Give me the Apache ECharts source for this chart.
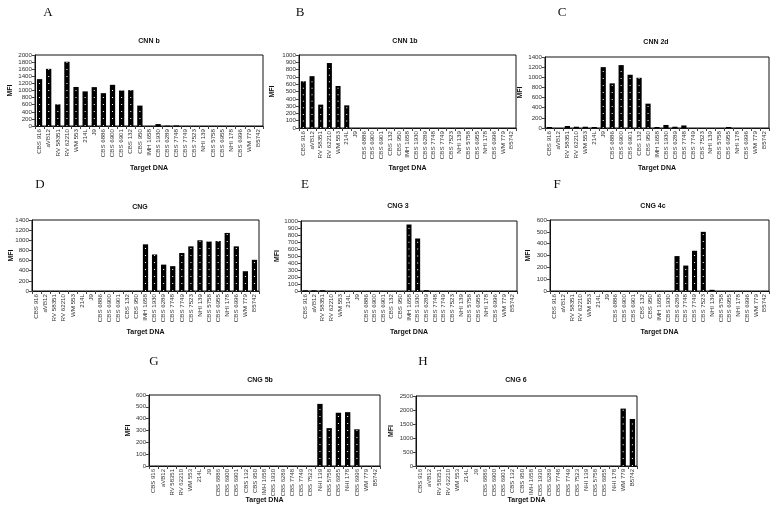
<!DOCTYPE html>
<html><head><meta charset="utf-8">
<script src="https://cdn.jsdelivr.net/npm/echarts@6/dist/echarts.min.js"></script>
<style>html,body{margin:0;padding:0;background:#fff}#c{width:778px;height:509px}</style>
</head><body><div id="c"></div>
<script>
const categories = ['CBS 916','aVB12','RV 58351','RV 62210','WM 553','214L','J9','CBS 6886','CBS 6900','CBS 6901','CBS 132','CBS 950','IMH 1658','CBS 1930','CBS 6289','CBS 7748','CBS 7749','CBS 7523','NHI 139','CBS 5758','CBS 6955','NHI 178','CBS 6996','WM 779','B5742'];
const categoriesH = ['CBS 916','aVB12','RV 58351','RV 62210','WM 553','214L','J9','CBS 6886','CBS 6900','CBS 6901','CBS 132','CBS 950','IMH 1658','CBS 1930','CBS 6289','CBS 7748','CBS 7749','CBS 7523','NHI 139','CBS 5758','CBS 6955','NHI 178','WM 779','B5742'];

const cnnB  = [1320,1610,610,1810,1100,975,1095,925,1160,1000,1010,575,0,55,10,15,0,0,0,0,0,0,0,0,0];
const cnn1b = [640,710,320,890,575,310,0,0,0,0,0,0,0,0,0,0,0,0,0,0,0,0,0,0,0];
const cnn2d = [20,0,40,25,25,20,1200,880,1240,1050,990,480,20,60,25,50,0,0,0,0,20,0,0,0,0];
const cng   = [0,0,0,0,0,0,0,0,0,0,0,0,920,720,520,490,750,880,1000,975,985,1145,880,390,615];
const cng3  = [10,10,10,0,0,0,0,0,0,0,0,0,950,750,10,0,0,0,0,0,0,0,0,0,0];
const cng4c = [0,0,0,0,0,0,0,0,0,0,0,0,0,0,295,215,340,500,10,0,0,0,0,0,0];
const cng5b = [0,0,0,0,0,0,0,0,0,0,0,0,0,0,0,0,0,0,525,320,450,455,310,0,0];
const cng6  = [0,0,0,0,0,0,0,0,0,0,0,0,0,0,0,0,0,0,0,0,0,0,2050,1680];

const panelTitles = ['CNN b','CNN 1b','CNN 2d','CNG','CNG 3','CNG 4c','CNG 5b','CNG 6'];
const panelLetters = ['A','B','C','D','E','F','G','H'];
const yMax = [2000,1000,1400,1400,1000,600,600,2500];
const yStep = [200,100,200,200,100,100,100,500];

const panels = [
  {data: cnnB,  cats: categories,  grid:[35,55,228,71],  title:[149,41], letter:[48,13],  mfiGap:21, tGap:39, fs:6.2},
  {data: cnn1b, cats: categories,  grid:[299,55,217,73], title:[405,41], letter:[300,13], mfiGap:23, tGap:37, fs:6.2},
  {data: cnn2d, cats: categories,  grid:[545,57,224,71], title:[656,42], letter:[562,13], mfiGap:21, tGap:37, fs:6.2},
  {data: cng,   cats: categories,  grid:[32,220,227,71], title:[140,207],letter:[40,185], mfiGap:17, tGap:38, fs:6.2},
  {data: cng3,  cats: categories,  grid:[301,221,216,70],title:[398,206],letter:[305,185],mfiGap:20, tGap:38, fs:6.2},
  {data: cng4c, cats: categories,  grid:[550,220,219,71],title:[653,206],letter:[557,185],mfiGap:18, tGap:38, fs:6.2},
  {data: cng5b, cats: categories,  grid:[149,395,231,71],title:[260,380],letter:[154,362],mfiGap:17, tGap:31, fs:6},
  {data: cng6,  cats: categoriesH, grid:[416,396,221,70],title:[516,380],letter:[423,362],mfiGap:21, tGap:31, fs:6}
];

const grid=[], xAxis=[], yAxis=[], series=[], graphic=[];
const FONT = 'Liberation Sans, Arial, sans-serif';
panels.forEach((p,i)=>{
  grid.push({left:p.grid[0], top:p.grid[1], width:p.grid[2], height:p.grid[3], show:true, borderColor:'#111', borderWidth:1, containLabel:false});
  xAxis.push({type:'category', gridIndex:i, data:p.cats, boundaryGap:true,
    axisLine:{lineStyle:{color:'#111',width:1}},
    axisTick:{show:true, length:3, interval:0, lineStyle:{color:'#444'}},
    axisLabel:{rotate:90, interval:0, fontSize:p.fs, color:'#333', fontFamily:FONT, margin:3},
    name:'Target DNA', nameLocation:'middle', nameGap:p.tGap, nameMoveOverlap:false,
    nameTextStyle:{fontSize:7, fontWeight:'bold', color:'#111', fontFamily:FONT}});
  yAxis.push({type:'value', gridIndex:i, min:0, max:yMax[i], interval:yStep[i],
    splitLine:{show:false},
    axisLine:{show:true, lineStyle:{color:'#111',width:1}},
    axisTick:{show:true, length:3, lineStyle:{color:'#444'}},
    axisLabel:{fontSize:p.fs, color:'#333', fontFamily:FONT, margin:3, formatter:v=>String(v)},
    name:'MFI', nameLocation:'middle', nameRotate:90, nameGap:p.mfiGap, nameMoveOverlap:false,
    nameTextStyle:{fontSize:7, fontWeight:'bold', color:'#111', fontFamily:FONT}});
  series.push({type:'bar', xAxisIndex:i, yAxisIndex:i, data:p.data, barWidth:'58%',
    itemStyle:{color:'#000'}, silent:true, animation:false});
  series.push({type:'pictorialBar', xAxisIndex:i, yAxisIndex:i,
    data:p.data.map(v=> v>150 ? v : '-'),
    symbol:'rect', symbolSize:[1,1], symbolRepeat:true, symbolMargin:3, symbolClip:true,
    itemStyle:{color:'#fff'}, silent:true, animation:false, z:3});
  graphic.push({type:'text', x:p.title[0], y:p.title[1],
    style:{text:panelTitles[i], font:'bold 7px '+FONT, fill:'#111', textAlign:'center', textVerticalAlign:'middle'}});
  graphic.push({type:'text', x:p.letter[0], y:p.letter[1],
    style:{text:panelLetters[i], font:'13px Liberation Serif, Times New Roman, serif', fill:'#111', textAlign:'center', textVerticalAlign:'middle'}});
});

const chart = echarts.init(document.getElementById('c'), null, {renderer:'canvas'});
chart.setOption({animation:false, backgroundColor:'#fff', grid, xAxis, yAxis, series, graphic});
</script></body></html>
